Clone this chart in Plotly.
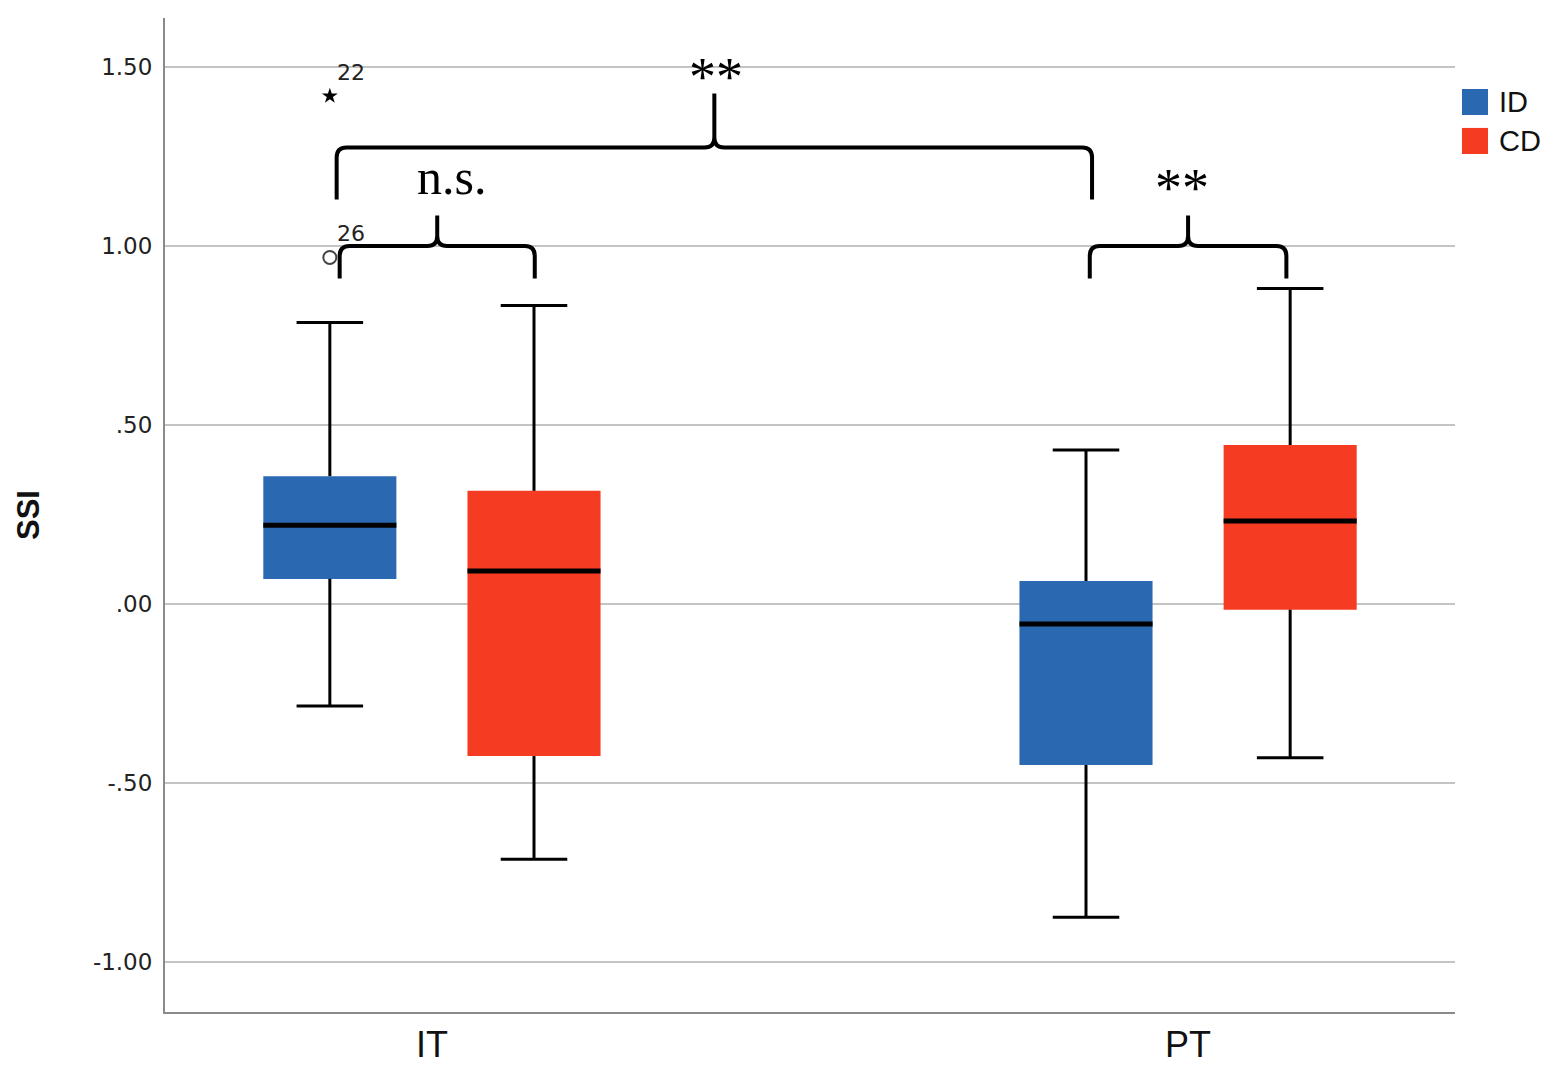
import plotly.graph_objects as go

# groups on the x axis and the two series
groups = ["IT", "PT"]
series = ["ID", "CD"]
colors = {"ID": "#2a68b1", "CD": "#f63b23"}

# box statistics (IT, PT)
id_lower = [-0.285, -0.875]
id_q1 = [0.070, -0.450]
id_median = [0.220, -0.056]
id_q3 = [0.357, 0.064]
id_upper = [0.786, 0.430]

cd_lower = [-0.713, -0.430]
cd_q1 = [-0.425, -0.016]
cd_median = [0.092, 0.232]
cd_q3 = [0.316, 0.444]
cd_upper = [0.834, 0.881]

# outliers (IT / ID)
outlier_vals = [1.419, 0.968]
outlier_ids = ["22", "26"]
outlier_kind = ["extreme", "outlier"]

ytick_vals = [-1.0, -0.5, 0.0, 0.5, 1.0, 1.5]
ytick_text = ["-1.00", "-.50", ".00", ".50", "1.00", "1.50"]

stats = {
    "ID": dict(lo=id_lower, q1=id_q1, med=id_median, q3=id_q3, hi=id_upper),
    "CD": dict(lo=cd_lower, q1=cd_q1, med=cd_median, q3=cd_q3, hi=cd_upper),
}

gx = list(range(len(groups)))
offset = {"ID": -0.135, "CD": 0.135}
box_w = 0.176
cap_hw = 0.044

fig = go.Figure()

for s in series:
    st = stats[s]
    xs = [g + offset[s] for g in gx]
    fig.add_trace(go.Bar(
        x=xs, y=[b - a for a, b in zip(st["q1"], st["q3"])], base=st["q1"],
        width=box_w, marker=dict(color=colors[s], line=dict(width=0)),
        name=s, showlegend=False, hoverinfo="skip",
    ))

for s in series:
    st = stats[s]
    wx, wy, mx, my = [], [], [], []
    for i, g in enumerate(gx):
        c = g + offset[s]
        wx += [c, c, None, c - cap_hw, c + cap_hw, None,
               c, c, None, c - cap_hw, c + cap_hw, None]
        wy += [st["q3"][i], st["hi"][i], None, st["hi"][i], st["hi"][i], None,
               st["q1"][i], st["lo"][i], None, st["lo"][i], st["lo"][i], None]
        mx += [c - box_w / 2, c + box_w / 2, None]
        my += [st["med"][i], st["med"][i], None]
    fig.add_trace(go.Scatter(x=wx, y=wy, mode="lines", line=dict(color="black", width=3),
                             showlegend=False, hoverinfo="skip"))
    fig.add_trace(go.Scatter(x=mx, y=my, mode="lines", line=dict(color="black", width=5),
                             showlegend=False, hoverinfo="skip"))

# outliers for IT / ID
ox = gx[0] + offset["ID"]
for v, lab, kind in zip(outlier_vals, outlier_ids, outlier_kind):
    if kind == "extreme":
        mk = dict(symbol="star", size=12, color="black")
    else:
        mk = dict(symbol="circle-open", size=13, color="#444", line=dict(width=2))
    fig.add_trace(go.Scatter(x=[ox], y=[v], mode="markers", marker=mk,
                             showlegend=False, hoverinfo="skip"))
    fig.add_annotation(x=ox, y=v, text=lab, showarrow=False, xanchor="left", yanchor="bottom",
                       xshift=5, yshift=9, font=dict(family="DejaVu Sans", size=22, color="#222"))


def brace(x0, x1, y, y_end, y_peak, xc=None, rx=0.013, ry=0.028):
    if xc is None:
        xc = (x0 + x1) / 2
    return (f"M {x0},{y_end} L {x0},{y - ry} Q {x0},{y} {x0 + rx},{y} "
            f"L {xc - rx},{y} Q {xc},{y} {xc},{y + ry} L {xc},{y_peak} "
            f"L {xc},{y + ry} Q {xc},{y} {xc + rx},{y} "
            f"L {x1 - rx},{y} Q {x1},{y} {x1},{y - ry} L {x1},{y_end}")


braces = [
    (-0.122, 0.136, 1.000, 0.909, 1.085),
    (0.870, 1.130, 1.000, 0.909, 1.085),
    (-0.126, 0.873, 1.275, 1.130, 1.426),
]
for b in braces:
    fig.add_shape(type="path", path=brace(*b), xref="x", yref="y",
                  line=dict(color="black", width=4))

sig_text = ["n.s.", "**", "**"]
sig_x = [0.026, 0.992, 0.376]
sig_y = [1.194, 1.162, 1.472]
sig_size = [50, 54, 54]
for t, x, y, fs in zip(sig_text, sig_x, sig_y, sig_size):
    fig.add_annotation(x=x, y=y, text=t, showarrow=False, xanchor="center", yanchor="middle",
                       font=dict(family="Liberation Serif", size=fs, color="black"))

# manual legend with larger swatches
leg_y = [0.9155, 0.8763]
for s, yc in zip(series, leg_y):
    fig.add_shape(type="rect", xref="paper", yref="paper", x0=1.0054, x1=1.0256,
                  y0=yc - 0.0131, y1=yc + 0.0131, fillcolor=colors[s], line=dict(width=0))
    fig.add_annotation(xref="paper", yref="paper", x=1.0326, y=yc, text=s, showarrow=False,
                       xanchor="left", yanchor="middle",
                       font=dict(family="Liberation Sans", size=29, color="#111"))

# page has an 8px body margin, so the figure is a little smaller than the window
fig.update_layout(
    width=1551, height=1070,
    margin=dict(l=157, r=104, t=10, b=66),
    plot_bgcolor="white", paper_bgcolor="white",
    barmode="overlay", showlegend=False,
)
fig.update_xaxes(
    range=[-0.353, 1.353], tickvals=gx, ticktext=groups, showgrid=False, zeroline=False,
    showline=True, linecolor="#8a8a8a", linewidth=2, ticks="",
    tickfont=dict(family="Liberation Sans", size=36, color="#111"),
)
fig.update_yaxes(
    range=[-1.14, 1.637], tickvals=ytick_vals, ticktext=ytick_text,
    showgrid=True, gridcolor="#c4c4c4", gridwidth=1.5, zeroline=False,
    showline=True, linecolor="#8a8a8a", linewidth=2, ticks="", ticklabelstandoff=6,
    tickfont=dict(family="DejaVu Sans", size=23, color="#222"),
    title=dict(text="<b>SSI</b>", standoff=44,
               font=dict(family="Liberation Sans", size=31, color="#111")),
)

fig.write_html("out.html")
